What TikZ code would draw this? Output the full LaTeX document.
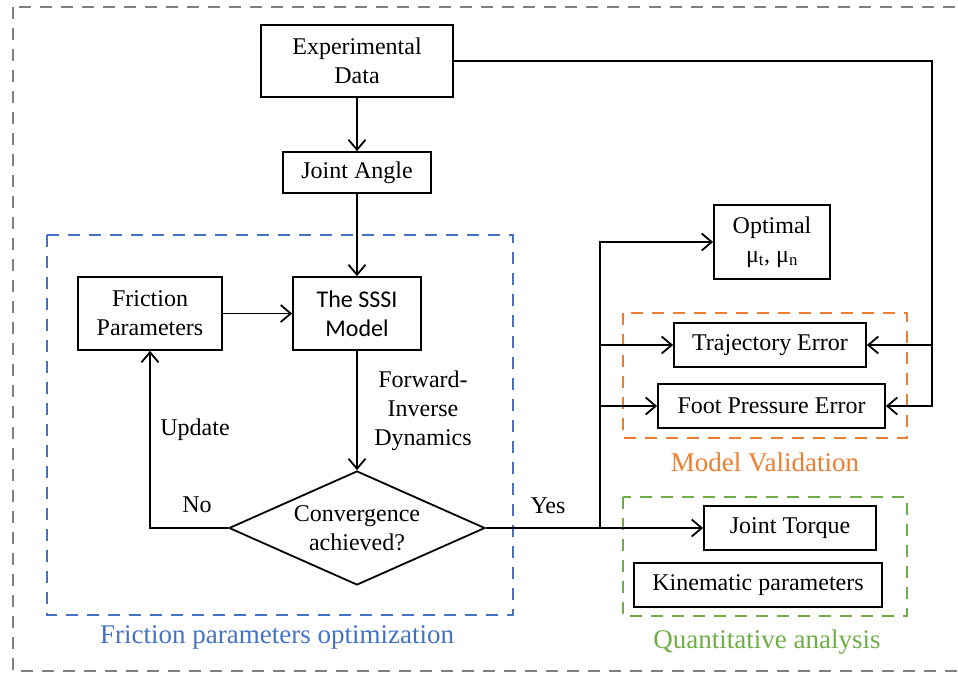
\documentclass[tikz,border=0pt]{standalone}
\usepackage{fontspec}
\setmainfont{Liberation Serif}
\newfontfamily\calfont{Carlito}
\usetikzlibrary{shapes.geometric,arrows.meta}
\definecolor{optblue}{RGB}{68,114,196}
\definecolor{valorange}{RGB}{237,125,49}
\definecolor{quagreen}{RGB}{112,173,71}
\definecolor{outgrey}{RGB}{128,128,128}
\begin{document}
\begin{tikzpicture}[x=1pt, y=-1pt, font=\fontsize{24}{29}\selectfont,
    line width=1.8pt, >={Straight Barb[length=10pt,width=17pt]}]
    \tikzset{
        box/.style={draw, align=center, inner sep=0pt},
        decision/.style={draw, diamond, aspect=2.25, align=center, inner sep=0pt,
            minimum width=256pt, minimum height=114pt},
        group/.style={line width=2.6pt, dash pattern=on 12pt off 9pt},
        grouplabel/.style={font=\fontsize{27}{32}\selectfont}
    }
    \useasboundingbox (0,0) rectangle (958,675);
    % outer frame and the three groups
    \draw[group, outgrey] (13,7) rectangle (975,671);
    \draw[group, optblue] (47,235) rectangle (513,615);
    \draw[group, valorange] (623,313) rectangle (907,438);
    \draw[group, quagreen] (623,497) rectangle (907,616);
    \node[grouplabel, text=optblue] (optlabel) at (277,637) {Friction parameters optimization};
    \node[grouplabel, text=valorange] (vallabel) at (765,462) {Model Validation};
    \node[grouplabel, text=quagreen] (qualabel) at (767,642) {Quantitative analysis};

    \node[box, minimum width=192pt, minimum height=72pt] (exp) at (357,61) {Experimental\\Data};
    \node[box, minimum width=148pt, minimum height=41pt] (angle) at (357,172.5) {Joint Angle};
    \node[box, minimum width=128pt, minimum height=73pt, font=\calfont\fontsize{24}{29}\selectfont] (sssi) at (357,313.5) {The SSSI\\Model};
    \node[box, minimum width=144pt, minimum height=73pt] (fric) at (150,313.5) {Friction\\Parameters};
    \node[decision] (conv) at (357,528) {Convergence\\achieved?};
    \node[box, minimum width=116pt, minimum height=74pt] (opt) at (772,242) {Optimal\\μ\textsubscript{t}, μ\textsubscript{n}};
    \node[box, minimum width=192pt, minimum height=44pt] (traj) at (770,345) {Trajectory Error};
    \node[box, minimum width=227pt, minimum height=44pt] (foot) at (771.5,406) {Foot Pressure Error};
    \node[box, minimum width=172pt, minimum height=44pt] (torque) at (790,528) {Joint Torque};
    \node[box, minimum width=248pt, minimum height=44pt] (kin) at (758,585) {Kinematic parameters};

    \node (update) at (195,430) {Update};
    \node (no) at (197,505) {No};
    \node (yes) at (548,506) {Yes};
    \node[align=center] (fid) at (423,411) {Forward-\\Inverse\\Dynamics};

    \coordinate (lbus) at (600,0);
    \coordinate (rbus) at (932,0);

    \draw[->] (exp) -- (angle);
    \draw[->] (angle) -- (sssi);
    \draw[->] (fric) -- (sssi);
    \draw[->] (sssi) -- (conv);
    \draw[->] (conv.west) -| (fric.south);
    \draw[->] (conv.east) -- (torque.west);
    \draw[->] (lbus |- conv.east) |- (opt.west);
    \draw[->] (lbus |- traj.west) -- (traj.west);
    \draw[->] (lbus |- foot.west) -- (foot.west);
    \draw[->] (exp.east) -| (rbus |- foot.east) -- (foot.east);
    \draw[->] (rbus |- traj.east) -- (traj.east);
\end{tikzpicture}
\end{document}
